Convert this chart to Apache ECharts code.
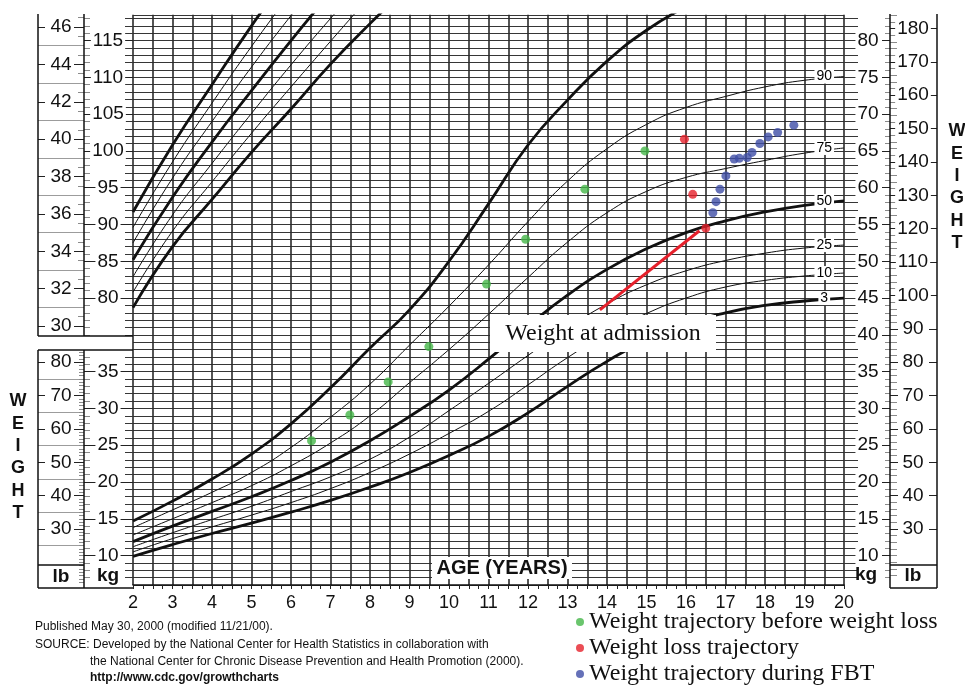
<!DOCTYPE html>
<html>
<head>
<meta charset="utf-8">
<title>Weight-for-age growth chart</title>
<script src="https://cdn.jsdelivr.net/npm/echarts@6/dist/echarts.min.js"></script>
<style>
  html, body { margin: 0; padding: 0; background: #fff; }
  #chart { width: 965px; height: 687px; }
</style>
</head>
<body>
<div id="chart"></div>
<script>
// ---- data ----
const ageYears = [2, 3, 4, 5, 6, 7, 8, 9, 10, 11, 12, 13, 14, 15, 16, 17, 18, 19, 20];
const ageLabels = [2, 3, 4, 5, 6, 7, 8, 9, 10, 11, 12, 13, 14, 15, 16, 17, 18, 19, 20];

// weight-for-age percentiles (kg)
const wt3  = [9.9, 11.5, 13.0, 14.4, 15.9, 17.5, 19.3, 21.3, 23.6, 26.2, 29.4, 33.0, 36.4, 39.3, 41.5, 43.0, 44.0, 44.6, 45.0];
const wt10 = [10.5, 12.3, 13.9, 15.5, 17.2, 19.1, 21.3, 23.8, 26.6, 29.6, 33.2, 36.9, 40.2, 42.9, 45.0, 46.5, 47.4, 48.0, 48.4];
const wt25 = [11.2, 13.1, 14.9, 16.7, 18.7, 20.7, 23.1, 26.1, 29.7, 33.4, 37.2, 40.9, 44.2, 46.8, 48.7, 50.1, 51.1, 51.8, 52.2];
const wt50 = [11.9, 14.0, 16.0, 18.0, 20.2, 22.7, 25.6, 28.9, 32.5, 36.7, 41.2, 45.4, 48.9, 51.7, 53.9, 55.5, 56.7, 57.6, 58.2];
const wt75 = [12.8, 15.0, 17.2, 19.5, 22.2, 25.3, 29.0, 33.5, 38.0, 42.8, 47.8, 52.6, 56.6, 59.5, 61.4, 62.6, 63.7, 64.7, 65.4];
const wt90 = [13.8, 16.2, 18.6, 21.3, 24.7, 28.8, 33.3, 38.6, 43.9, 49.5, 55.4, 60.9, 65.3, 68.6, 70.9, 72.4, 73.7, 74.6, 75.1];
const wt97 = [14.7, 17.4, 20.4, 23.8, 27.9, 32.8, 38.2, 43.4, 50.0, 57.8, 65.8, 71.9, 77.2, 81.4, 84.6];

// stature-for-age percentiles (cm), upper left of the sheet
const ht3  = [78.7, 87.0, 93.4, 99.8, 105.7, 111.8, 117.3, 122.5];
const ht10 = [80.8, 89.1, 95.8, 102.4, 108.7, 114.9, 121.0];
const ht25 = [82.9, 91.3, 98.3, 105.1, 111.7, 118.0, 124.0];
const ht50 = [85.2, 93.7, 101.2, 108.2, 115.0, 121.5];
const ht75 = [87.5, 96.3, 104.0, 111.4, 118.4, 125.1];
const ht90 = [89.6, 98.5, 106.5, 114.2, 121.5];
const ht97 = [91.7, 100.8, 109.0, 117.0, 124.5];

// patient
const greenAge = [6.52, 7.49, 8.46, 9.49, 10.95, 11.94, 13.44, 14.96];
const greenKg  = [25.6, 29.1, 33.6, 38.4, 46.9, 53.0, 59.8, 65.0];
const redAge = [15.96, 16.17, 16.50];
const redKg  = [66.6, 59.1, 54.5];
const blueAge = [16.68, 16.76, 16.86, 17.01, 17.22, 17.35, 17.55, 17.67, 17.87, 18.08, 18.32, 18.73];
const blueKg  = [56.6, 58.1, 59.8, 61.6, 63.9, 64.0, 64.1, 64.8, 66.0, 66.9, 67.5, 68.5];
const arrowFrom = [13.82, 43.4];
const arrowTo = [16.34, 54.15];

// scale labels
const inchLabels = [30, 32, 34, 36, 38, 40, 42, 44, 46];
const cmLabels = [80, 85, 90, 95, 100, 105, 110, 115];
const kgLeftLabels = [10, 15, 20, 25, 30, 35];
const lbLeftLabels = [30, 40, 50, 60, 70, 80];
const kgRightLabels = [10, 15, 20, 25, 30, 35, 40, 45, 50, 55, 60, 65, 70, 75, 80];
const lbRightLabels = [30, 40, 50, 60, 70, 80, 90, 100, 110, 120, 130, 140, 150, 160, 170, 180];
const pctNames = ['90', '75', '50', '25', '10', '3'];

const SANS = 'Liberation Sans, Arial, Helvetica, sans-serif';
const SERIF = 'Liberation Serif, Times New Roman, serif';
const GREEN = '#45b649', RED = '#e6202b', BLUE = '#3f4ea6';

// the main grid runs in kg; the stature scale is printed 35 units higher
const KG_MIN = 6, KG_MAX = 83.5, CM_SHIFT = 35;
const CM_MIN = KG_MIN + CM_SHIFT, CM_MAX = KG_MAX + CM_SHIFT;
const IN_MIN = CM_MIN / 2.54, IN_MAX = CM_MAX / 2.54;
const LB_MIN = KG_MIN * 2.20462, LB_MAX = KG_MAX * 2.20462;

function range(a, b, step) {
  const out = [];
  for (let v = a; v <= b + 1e-9; v += step) out.push(+v.toFixed(2));
  return out;
}
function pairs(xs, ys) {
  return ys.map((y, i) => [xs[i], y]);
}

const GTOP = 14.8, GH = 570.2;
const grids = [
  { left: 133, top: GTOP, width: 711, height: GH },   // main
  { left: 38, top: GTOP, width: 46, height: GH },     // left outer (in / lb)
  { left: 84, top: GTOP, width: 49, height: GH },     // left inner (cm / kg)
  { left: 844, top: GTOP, width: 46, height: GH },    // right inner (kg)
  { left: 890, top: GTOP, width: 47, height: GH }     // right outer (lb)
].map(g => Object.assign(g, { outerBoundsMode: 'none', containLabel: false }));

function tickAxis(grid, min, max, side, values, len, color) {
  return {
    type: 'value', gridIndex: grid, min: min, max: max, position: side,
    axisLine: { show: false }, splitLine: { show: false }, axisLabel: { show: false },
    axisTick: { show: true, inside: true, length: len, customValues: values,
      lineStyle: { color: color, width: 1 } }
  };
}
function labelAxis(grid, min, max, values, margin) {
  return {
    type: 'value', gridIndex: grid, min: min, max: max, position: 'left', z: 6,
    axisLine: { show: false }, splitLine: { show: false }, axisTick: { show: false },
    axisLabel: { show: true, inside: true, margin: margin, align: 'center', verticalAlign: 'middle',
      customValues: values, fontSize: 19, fontFamily: SANS, color: '#111',
      backgroundColor: '#fff', padding: [0, 2] }
  };
}

const GRAY = '#8a8a8a', DARK = '#222';

const xAxes = [
  {
    type: 'value', gridIndex: 0, min: 2, max: 20, interval: 0.5,
    axisLine: { show: true, onZero: false, lineStyle: { color: '#111', width: 1.5 } },
    axisTick: { show: true, inside: false, length: 4, lineStyle: { color: DARK } },
    minorTick: { show: true, splitNumber: 2, length: 4, lineStyle: { color: DARK } },
    splitLine: { show: true, lineStyle: { color: '#2a2a2a', width: 1.6 } },
    axisLabel: { show: true, customValues: ageLabels, margin: 9, fontSize: 18, fontFamily: SANS, color: '#111' }
  }
];
for (let g = 1; g < 5; g++) {
  xAxes.push({ type: 'value', gridIndex: g, min: 0, max: 1, show: false });
}

const yAxes = [
  { type: 'value', gridIndex: 0, min: KG_MIN, max: KG_MAX, interval: 1, position: 'left',
    axisLine: { show: false }, axisTick: { show: false }, axisLabel: { show: false },
    splitLine: { show: true, lineStyle: { color: '#363636', width: 1.1 } } },
  { type: 'value', gridIndex: 0, min: CM_MIN, max: CM_MAX, position: 'right', show: false },

  // left outer column: inches (top) and pounds (bottom)
  tickAxis(1, IN_MIN, IN_MAX, 'left', range(31, 45, 2), 46, '#9c9c9c'),
  tickAxis(1, IN_MIN, IN_MAX, 'right', range(30.5, 46.5, 1), 6, GRAY),
  tickAxis(1, IN_MIN, IN_MAX, 'left', inchLabels, 7, DARK),
  tickAxis(1, IN_MIN, IN_MAX, 'right', inchLabels, 10, DARK),
  labelAxis(1, IN_MIN, IN_MAX, inchLabels, 23),
  tickAxis(1, LB_MIN, LB_MAX, 'left', range(25, 75, 10), 46, '#9c9c9c'),
  tickAxis(1, LB_MIN, LB_MAX, 'right', range(14, 83, 1), 5, GRAY),
  tickAxis(1, LB_MIN, LB_MAX, 'left', lbLeftLabels, 7, DARK),
  tickAxis(1, LB_MIN, LB_MAX, 'right', lbLeftLabels, 10, DARK),
  labelAxis(1, LB_MIN, LB_MAX, lbLeftLabels, 23),

  // left inner column: cm (top) and kg (bottom)
  tickAxis(2, CM_MIN, CM_MAX, 'left', range(75, 118, 1), 6, GRAY),
  tickAxis(2, CM_MIN, CM_MAX, 'right', range(75, 118, 1), 8, '#363636'),
  tickAxis(2, CM_MIN, CM_MAX, 'left', cmLabels, 49, DARK),
  labelAxis(2, CM_MIN, CM_MAX, cmLabels, 24),
  tickAxis(2, KG_MIN, KG_MAX, 'left', range(7, 37, 1), 6, GRAY),
  tickAxis(2, KG_MIN, KG_MAX, 'right', range(7, 37, 1), 8, '#363636'),
  tickAxis(2, KG_MIN, KG_MAX, 'left', kgLeftLabels, 49, DARK),
  labelAxis(2, KG_MIN, KG_MAX, kgLeftLabels, 24),

  // right inner column: kg
  tickAxis(3, KG_MIN, KG_MAX, 'left', range(7, 83, 1), 14, '#363636'),
  tickAxis(3, KG_MIN, KG_MAX, 'right', range(7, 83, 1), 5, GRAY),
  tickAxis(3, KG_MIN, KG_MAX, 'right', kgRightLabels, 8, DARK),
  labelAxis(3, KG_MIN, KG_MAX, kgRightLabels, 24),

  // right outer column: lb
  tickAxis(4, LB_MIN, LB_MAX, 'left', range(16, 184, 2), 7, GRAY),
  tickAxis(4, LB_MIN, LB_MAX, 'left', lbRightLabels, 8, DARK),
  tickAxis(4, LB_MIN, LB_MAX, 'right', lbRightLabels, 8, DARK),
  labelAxis(4, LB_MIN, LB_MAX, lbRightLabels, 23)
];

// percentile curves
const weightCurves = [[wt97, true], [wt90, false], [wt75, false], [wt50, true], [wt25, false], [wt10, false], [wt3, true]];
const statureCurves = [[ht97, true], [ht90, false], [ht75, false], [ht50, true], [ht25, false], [ht10, false], [ht3, true]];

function curve(vals, bold, yIndex) {
  return {
    type: 'line', xAxisIndex: 0, yAxisIndex: yIndex, data: pairs(ageYears, vals),
    symbol: 'none', smooth: 0.5, silent: true, z: 3,
    lineStyle: { color: '#111', width: bold ? 2.8 : 1 }
  };
}

const series = [];
weightCurves.forEach(c => series.push(curve(c[0], c[1], 0)));
statureCurves.forEach(c => series.push(curve(c[0], c[1], 1)));

const labelled = [wt90, wt75, wt50, wt25, wt10, wt3];
series.push({
  type: 'scatter', xAxisIndex: 0, yAxisIndex: 0, silent: true, z: 4,
  symbolSize: 0, itemStyle: { color: '#000' },
  data: labelled.map((c, i) => [19.5, c[c.length - 1], pctNames[i]]),
  label: { show: true, position: 'inside', formatter: p => p.value[2],
    fontSize: 14, fontFamily: SANS, color: '#000', opacity: 1, textBorderWidth: 0,
    backgroundColor: '#fff', padding: [0, 2] }
});

series.push({
  name: 'Weight trajectory before weight loss', type: 'scatter', xAxisIndex: 0, yAxisIndex: 0,
  data: pairs(greenAge, greenKg), symbolSize: 9, itemStyle: { color: GREEN }, z: 8
});
series.push({
  name: 'Weight loss trajectory', type: 'scatter', xAxisIndex: 0, yAxisIndex: 0,
  data: pairs(redAge, redKg), symbolSize: 9, itemStyle: { color: RED }, z: 8,
  markLine: {
    silent: true, symbol: ['none', 'arrow'], symbolSize: [0, 13],
    label: { show: false }, lineStyle: { color: RED, width: 3, type: 'solid' },
    data: [[{ coord: arrowFrom }, { coord: arrowTo }]]
  }
});
series.push({
  name: 'Weight trajectory during FBT', type: 'scatter', xAxisIndex: 0, yAxisIndex: 0,
  data: pairs(blueAge, blueKg), symbolSize: 9, itemStyle: { color: BLUE }, z: 8
});

// frame pieces and printed text
function seg(x1, y1, x2, y2) {
  return { type: 'line', z: 20, shape: { x1: x1, y1: y1, x2: x2, y2: y2 }, style: { stroke: '#111', lineWidth: 1.5 } };
}
function txt(x, y, text, font, align) {
  return { type: 'text', z: 31, x: x, y: y,
    style: { text: text, font: font, fill: '#111', align: align || 'center', verticalAlign: 'middle' } };
}
const graphics = [
  seg(38, 14, 38, 336), seg(84, 14, 84, 336), seg(38, 336, 133, 336),
  seg(38, 350, 133, 350), seg(38, 350, 38, 588), seg(84, 350, 84, 588),
  seg(38, 565, 84, 565), seg(38, 588, 133, 588),
  seg(890, 14, 890, 588), seg(937, 14, 937, 588), seg(890, 565, 937, 565), seg(890, 588, 937, 588),

  { type: 'rect', z: 30, shape: { x: 432, y: 557, width: 140, height: 22 }, style: { fill: '#fff' } },
  txt(502, 568, 'AGE (YEARS)', 'bold 20px ' + SANS),
  txt(61, 577, 'lb', 'bold 19px ' + SANS),
  txt(108, 576, 'kg', 'bold 19px ' + SANS),
  txt(866, 575, 'kg', 'bold 19px ' + SANS),
  txt(913, 576, 'lb', 'bold 19px ' + SANS),
  { type: 'text', z: 31, x: 18, y: 390,
    style: { text: 'W\nE\nI\nG\nH\nT', font: 'bold 18px ' + SANS, lineHeight: 22.4, fill: '#111', align: 'center', verticalAlign: 'top' } },
  { type: 'text', z: 31, x: 957, y: 120,
    style: { text: 'W\nE\nI\nG\nH\nT', font: 'bold 18px ' + SANS, lineHeight: 22.4, fill: '#111', align: 'center', verticalAlign: 'top' } },

  { type: 'rect', z: 30, shape: { x: 490, y: 315, width: 226, height: 37 }, style: { fill: '#fff' } },
  txt(603, 334, 'Weight at admission', '24px ' + SERIF),

  txt(35, 627, 'Published May 30, 2000 (modified 11/21/00).', '12px ' + SANS, 'left'),
  txt(35, 645, 'SOURCE: Developed by the National Center for Health Statistics in collaboration with', '12px ' + SANS, 'left'),
  txt(90, 662, 'the National Center for Chronic Disease Prevention and Health Promotion (2000).', '12px ' + SANS, 'left'),
  txt(90, 678, 'http://www.cdc.gov/growthcharts', 'bold 12px ' + SANS, 'left')
];

const chart = echarts.init(document.getElementById('chart'), null, { renderer: 'canvas' });
chart.setOption({
  animation: false,
  backgroundColor: '#fff',
  grid: grids,
  xAxis: xAxes,
  yAxis: yAxes,
  legend: {
    data: ['Weight trajectory before weight loss', 'Weight loss trajectory', 'Weight trajectory during FBT'],
    orient: 'vertical', left: 576, top: 610, padding: 0, itemGap: 2,
    icon: 'circle', itemWidth: 8, itemHeight: 8, selectedMode: false,
    textStyle: { fontFamily: SERIF, fontSize: 24, color: '#111' }
  },
  graphic: graphics,
  series: series
});
</script>
</body>
</html>
